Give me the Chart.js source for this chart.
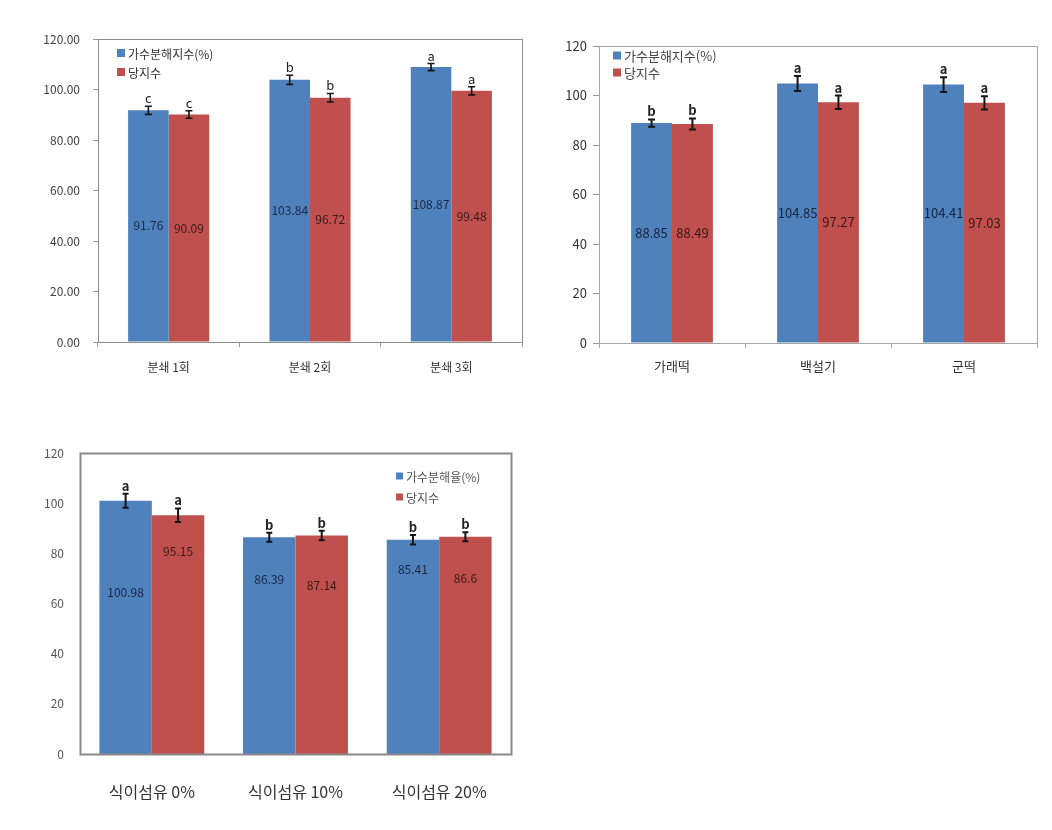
<!DOCTYPE html>
<html>
<head>
<meta charset="utf-8">
<script src="https://cdn.jsdelivr.net/npm/chart.js@4.4.1/dist/chart.umd.min.js"></script>
<style>
    body { margin: 0; background: #fff; }
    .box { position: absolute; }
</style>
</head>
<body>
<div class="box" style="left:0;top:0;width:540px;height:400px"><canvas id="chartMill"></canvas></div>
<div class="box" style="left:540px;top:0;width:512px;height:400px"><canvas id="chartRice"></canvas></div>
<div class="box" style="left:0;top:420px;width:540px;height:410px"><canvas id="chartFiber"></canvas></div>
<script>
// 분쇄 횟수
const millLabels = ['분쇄 1회', '분쇄 2회', '분쇄 3회']
const millHydro = [91.76, 103.84, 108.87]
const millGi = [90.09, 96.72, 99.48]
const millHydroErr = [1.6, 1.8, 1.4]
const millGiErr = [1.5, 1.7, 1.6]
const millHydroSig = ['c', 'b', 'a']
const millGiSig = ['c', 'b', 'a']

// 떡 종류
const riceLabels = ['가래떡', '백설기', '군떡']
const riceHydro = [88.85, 104.85, 104.41]
const riceGi = [88.49, 97.27, 97.03]
const riceHydroErr = [1.5, 3.0, 3.0]
const riceGiErr = [2.2, 2.7, 2.7]
const riceHydroSig = ['b', 'a', 'a']
const riceGiSig = ['b', 'a', 'a']

// 식이섬유 첨가
const fiberLabels = ['식이섬유 0%', '식이섬유 10%', '식이섬유 20%']
const fiberHydro = [100.98, 86.39, 85.41]
const fiberGi = [95.15, 87.14, 86.6]
const fiberHydroErr = [2.8, 1.8, 1.9]
const fiberGiErr = [2.7, 1.9, 1.8]
const fiberHydroSig = ['a', 'b', 'b']
const fiberGiSig = ['a', 'b', 'b']

const blue = '#4F81BD'
const red = '#C0504D'
const family = "'Noto Sans CJK KR', 'Noto Sans', sans-serif"

// error bars, letters, value labels, frame and legend
const overlay = {
    id: 'overlay',
    afterDatasetsDraw(chart, args, opts) {
        const ctx = chart.ctx
        const area = chart.chartArea
        const y = chart.scales.y
        ctx.save()
        ctx.strokeStyle = opts.frameColor
        ctx.lineWidth = opts.frameWidth
        ctx.strokeRect(Math.round(area.left) + 0.5, Math.round(area.top) + 0.5,
            Math.round(area.right - area.left), Math.round(area.bottom - area.top))

        ctx.textAlign = 'center'
        ctx.textBaseline = 'middle'
        chart.data.datasets.forEach((ds, di) => {
            chart.getDatasetMeta(di).data.forEach((bar, i) => {
                const v = ds.data[i]
                const top = y.getPixelForValue(v + ds.errors[i])
                const bot = y.getPixelForValue(v - ds.errors[i])
                ctx.strokeStyle = '#151515'
                ctx.lineWidth = opts.errWidth
                ctx.beginPath()
                ctx.moveTo(bar.x, top)
                ctx.lineTo(bar.x, bot)
                ctx.moveTo(bar.x - opts.cap, top)
                ctx.lineTo(bar.x + opts.cap, top)
                ctx.moveTo(bar.x - opts.cap, bot)
                ctx.lineTo(bar.x + opts.cap, bot)
                ctx.stroke()

                ctx.fillStyle = '#222'
                ctx.font = opts.sigFont
                ctx.fillText(ds.sig[i], bar.x, top - opts.sigGap)

                const ly = opts.labelAt ? y.getPixelForValue(opts.labelAt[di][i]) : (bar.y + bar.base) / 2
                ctx.fillStyle = opts.valueColors[di]
                ctx.font = opts.valueFont
                ctx.fillText(String(v), bar.x, ly)
            })
        })

        const lg = opts.legend
        ctx.textAlign = 'left'
        chart.data.datasets.forEach((ds, di) => {
            const cy = area.top + lg.top + di * lg.step
            const lx = area.left + lg.left
            ctx.fillStyle = ds.backgroundColor
            ctx.fillRect(lx, cy - lg.box / 2, lg.box, lg.box)
            ctx.fillStyle = lg.color
            ctx.font = lg.font
            ctx.fillText(ds.label, lx + lg.box + 3, cy + 1)
        })
        ctx.restore()
    }
}

new Chart(document.getElementById('chartMill'), {
    type: 'bar',
    data: {
        labels: millLabels,
        datasets: [
            { label: '가수분해지수(%)', data: millHydro, errors: millHydroErr, sig: millHydroSig, backgroundColor: blue },
            { label: '당지수', data: millGi, errors: millGiErr, sig: millGiSig, backgroundColor: red }
        ]
    },
    options: {
        responsive: true,
        maintainAspectRatio: false,
        animation: false,
        layout: { padding: { left: 0, right: 18, top: 39, bottom: 0 } },
        datasets: { bar: { categoryPercentage: 0.574, barPercentage: 1 } },
        plugins: {
            legend: { display: false },
            tooltip: { enabled: false },
            overlay: {
                frameColor: '#8c8c8c', frameWidth: 1,
                errWidth: 1.6, cap: 3.5, sigGap: 8, sigFont: '13px ' + family,
                valueFont: '12px ' + family, valueColors: ['#1c2944', '#3a1b1b'],
                legend: { left: 19, top: 14, step: 19, box: 8, color: '#333', font: '12px ' + family }
            }
        },
        scales: {
            x: {
                afterFit: s => { s.height = 58 },
                grid: { drawOnChartArea: false, tickLength: 5, color: '#999' },
                border: { display: false },
                ticks: { color: '#333', padding: 13, font: { family: family, size: 12 } }
            },
            y: {
                min: 0,
                max: 120,
                afterFit: s => { s.width = 98 },
                grid: { drawOnChartArea: false, tickLength: 5, color: '#999' },
                border: { display: false },
                ticks: { stepSize: 20, padding: 13, color: '#404040', font: { family: family, size: 12 },
                    callback: v => v.toFixed(2) }
            }
        }
    },
    plugins: [overlay]
})

new Chart(document.getElementById('chartRice'), {
    type: 'bar',
    data: {
        labels: riceLabels,
        datasets: [
            { label: '가수분해지수(%)', data: riceHydro, errors: riceHydroErr, sig: riceHydroSig, backgroundColor: blue },
            { label: '당지수', data: riceGi, errors: riceGiErr, sig: riceGiSig, backgroundColor: red }
        ]
    },
    options: {
        responsive: true,
        maintainAspectRatio: false,
        animation: false,
        layout: { padding: { left: 0, right: 15, top: 46, bottom: 0 } },
        datasets: { bar: { categoryPercentage: 0.56, barPercentage: 1 } },
        plugins: {
            legend: { display: false },
            tooltip: { enabled: false },
            overlay: {
                frameColor: '#a6a6a6', frameWidth: 1,
                errWidth: 2, cap: 3.5, sigGap: 8, sigFont: '600 13px ' + family,
                valueFont: '13px ' + family, valueColors: ['#17233d', '#3a1717'],
                legend: { left: 14, top: 9.5, step: 17, box: 8, color: '#444', font: '13px ' + family }
            }
        },
        scales: {
            x: {
                afterFit: s => { s.height = 57 },
                grid: { drawOnChartArea: false, tickLength: 5, color: '#aaa' },
                border: { display: false },
                ticks: { color: '#333', padding: 10, font: { family: family, size: 13 } }
            },
            y: {
                min: 0,
                max: 120,
                afterFit: s => { s.width = 59 },
                grid: { drawOnChartArea: false, tickLength: 6, color: '#999' },
                border: { display: false },
                ticks: { stepSize: 20, padding: 6, color: '#333', font: { family: family, size: 13 } }
            }
        }
    },
    plugins: [overlay]
})

new Chart(document.getElementById('chartFiber'), {
    type: 'bar',
    data: {
        labels: fiberLabels,
        datasets: [
            { label: '가수분해율(%)', data: fiberHydro, errors: fiberHydroErr, sig: fiberHydroSig, backgroundColor: blue },
            { label: '당지수', data: fiberGi, errors: fiberGiErr, sig: fiberGiSig, backgroundColor: red }
        ]
    },
    options: {
        responsive: true,
        maintainAspectRatio: false,
        animation: false,
        layout: { padding: { left: 0, right: 29, top: 33, bottom: 0 } },
        datasets: { bar: { categoryPercentage: 0.73, barPercentage: 1 } },
        plugins: {
            legend: { display: false },
            tooltip: { enabled: false },
            overlay: {
                frameColor: '#8a8a8a', frameWidth: 2,
                errWidth: 2, cap: 3, sigGap: 8, sigFont: 'bold 13px ' + family,
                valueFont: '12px ' + family, valueColors: ['#1a2640', '#3a1a1a'],
                // label centres in axis units, as placed in the original
                labelAt: [[64.6, 69.4, 73.4], [80.9, 67.4, 69.8]],
                legend: { left: 316, top: 23, step: 21, box: 7, color: '#555', font: '12px ' + family }
            }
        },
        scales: {
            x: {
                afterFit: s => { s.height = 76 },
                grid: { display: false },
                border: { display: false },
                ticks: { color: '#333', padding: 20, font: { family: family, size: 16 } }
            },
            y: {
                min: 0,
                max: 120,
                afterFit: s => { s.width = 80 },
                grid: { display: false },
                border: { display: false },
                ticks: { stepSize: 20, padding: 8, color: '#555', font: { family: family, size: 12 } }
            }
        }
    },
    plugins: [overlay]
})
</script>
</body>
</html>
